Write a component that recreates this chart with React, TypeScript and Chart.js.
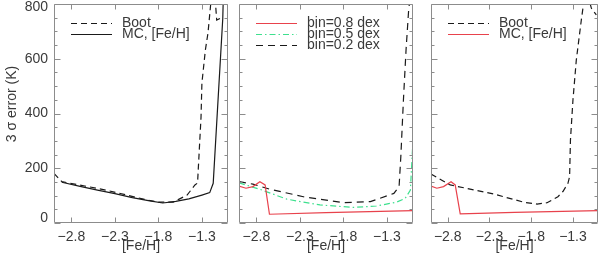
import React, { useEffect, useRef } from "react";
import { Chart, registerables } from "chart.js";

Chart.register(...registerables);

// ---------- data ----------
const xTicks = [-2.8, -2.3, -1.8, -1.3];
const yTicks = [0, 200, 400, 600, 800];
const yMinorStep = 50;

// Panel 1
const boot1X = [-3.0, -2.91, -2.51, -2.32, -1.93, -1.8, -1.63, -1.47, -1.38, -1.35, -1.33, -1.31, -1.3, -1.26, -1.23, -1.19, -1.15, -1.13, -1.06];
const boot1Y = [181, 151, 127, 114, 84, 76, 76, 102, 139, 146, 267, 387, 511, 632, 694, 830, 830, 741, 752];
const mc1X = [-2.91, -2.7, -2.5, -2.3, -2.1, -1.9, -1.75, -1.6, -1.45, -1.3, -1.21, -1.17, -1.06, -1.055];
const mc1Y = [149, 134, 120, 107, 93, 81, 73, 79, 88, 102, 111, 145, 748, 810];

// Panel 2
const bin08X = [-3.0, -2.92, -2.84, -2.76, -2.7, -2.65, -2.0, -1.0];
const bin08Y = [135, 127, 133, 151, 139, 32, 38, 45];
const bin05X = [-3.0, -2.76, -2.45, -2.07, -1.69, -1.42, -1.19, -1.09, -1.03, -1.0];
const bin05Y = [147, 123, 87, 66, 57, 62, 76, 90, 120, 303];
const bin02X = [-3.0, -2.84, -2.64, -2.26, -1.8, -1.49, -1.22, -1.16, -1.14, -1.11, -1.08, -1.05, -1.03];
const bin02Y = [151, 142, 123, 96, 74, 78, 108, 133, 242, 449, 632, 778, 830];

// Panel 3
const boot3X = [-3.0, -2.77, -2.25, -1.89, -1.73, -1.61, -1.48, -1.42, -1.36, -1.34, -1.33, -1.3, -1.26, -1.2, -1.16, -1.12, -1.08, -1.02];
const boot3Y = [179, 139, 106, 76, 69, 74, 96, 115, 145, 169, 303, 449, 595, 741, 830, 830, 785, 760];
const mc3X = [-3.0, -2.93, -2.85, -2.76, -2.71, -2.65, -2.0, -1.0];
const mc3Y = [135, 127, 133, 151, 139, 33, 39, 45];

const FONT = "'Liberation Sans', Arial, Helvetica, sans-serif";
const TEXT = "#3a3a3a";
const AXIS = "#8c8c8c";
const BLACK = "#1a1a1a";
const RED = "#e8424c";
const GREEN = "#3ee08e";

type Series = { label: string; xs: number[]; ys: number[]; color: string; dash: number[]; width?: number };

const fmt = (v: number) => (v < 0 ? "\u2212" + Math.abs(v).toFixed(1) : v.toFixed(1));

type PanelProps = {
  left: number;
  width: number;
  areaLeft: number;
  rightPad: number;
  series: Series[];
  showY: boolean;
};

function Panel({ left, width, areaLeft, rightPad, series, showY }: PanelProps) {
  const ref = useRef<HTMLCanvasElement | null>(null);
  useEffect(() => {
    if (!ref.current) return;
    const decor = {
      id: "decor",
      beforeDraw(chart: any) {
        // keep the end labels of the y axis inside the frame, like the original
        const a = chart.chartArea;
        const items = chart.scales.y.getLabelItems(a) || [];
        items.forEach((it: any) => {
          const t = it.options.translation;
          t[1] = Math.min(Math.max(t[1], a.top + 3), a.bottom - 4.5);
        });
      },
      afterDatasetsDraw(chart: any) {
        const { ctx, chartArea: a, scales } = chart;
        ctx.save();
        ctx.strokeStyle = AXIS;
        ctx.lineWidth = 1;
        const L = Math.round(a.left) + 0.5;
        const R = Math.round(a.right) - 0.5;
        const T = Math.round(a.top) + 0.5;
        const B = Math.round(a.bottom) - 0.5;
        ctx.beginPath();
        ctx.rect(L, T, R - L, B - T);
        for (let v = yTicks[0]; v <= yTicks[yTicks.length - 1]; v += yMinorStep) {
          const y = Math.round(scales.y.getPixelForValue(v)) + 0.5;
          const len = yTicks.includes(v) ? 6 : 3;
          ctx.moveTo(L, y);
          ctx.lineTo(L + len, y);
          ctx.moveTo(R, y);
          ctx.lineTo(R - len, y);
        }
        for (const v of xTicks) {
          const x = Math.round(scales.x.getPixelForValue(v)) + 0.5;
          ctx.moveTo(x, B);
          ctx.lineTo(x, B - 5);
          ctx.moveTo(x, T);
          ctx.lineTo(x, T + 5);
        }
        ctx.stroke();

        // legend
        ctx.font = `14px ${FONT}`;
        ctx.textBaseline = "middle";
        ctx.textAlign = "left";
        series.forEach((s, i) => {
          const y = Math.round(a.top + 19 + i * 11) + 0.5;
          ctx.beginPath();
          ctx.strokeStyle = s.color;
          ctx.lineWidth = s.width ?? 1.2;
          ctx.setLineDash(s.dash);
          ctx.moveTo(a.left + 17, y);
          ctx.lineTo(a.left + 58, y);
          ctx.stroke();
          ctx.setLineDash([]);
          ctx.fillStyle = TEXT;
          ctx.fillText(s.label, a.left + 68, y);
        });

        // titles
        ctx.fillStyle = TEXT;
        ctx.textAlign = "center";
        ctx.fillText("[Fe/H]", (a.left + a.right) / 2, 246);
        if (showY) {
          ctx.save();
          ctx.translate(12, 104);
          ctx.rotate(-Math.PI / 2);
          ctx.fillText("3 \u03c3 error (K)", 0, 0);
          ctx.restore();
        }
        ctx.restore();
      },
    };

    const chart = new Chart(ref.current, {
      type: "line",
      data: {
        datasets: series.map((s) => ({
          label: s.label,
          data: s.xs.map((x, i) => ({ x, y: s.ys[i] })),
          borderColor: s.color,
          borderWidth: s.width ?? 1.2,
          borderDash: s.dash,
          pointRadius: 0,
          fill: false,
          tension: 0,
        })),
      },
      options: {
        animation: false,
        responsive: false,
        devicePixelRatio: 1,
        layout: { padding: { top: 4, right: rightPad, left: 0, bottom: 0 }, autoPadding: false },
        plugins: { legend: { display: false }, tooltip: { enabled: false } },
        scales: {
          x: {
            type: "linear",
            min: -3,
            max: -1,
            grid: { display: false, drawTicks: false },
            border: { display: false },
            afterBuildTicks: (s: any) => {
              s.ticks = xTicks.map((v) => ({ value: v }));
            },
            afterFit: (s: any) => {
              s.height = 39;
              s.paddingLeft = 0;
              s.paddingRight = 0;
              s.paddingTop = 0;
              s.paddingBottom = 0;
            },
            ticks: {
              padding: 6,
              color: TEXT,
              font: { family: FONT, size: 14 },
              maxRotation: 0,
              autoSkip: false,
              callback: (v: any) => fmt(Number(v)),
            },
          },
          y: {
            type: "linear",
            min: 0,
            max: 800,
            grid: { display: false, drawTicks: false },
            border: { display: false },
            afterBuildTicks: (s: any) => {
              s.ticks = yTicks.map((v) => ({ value: v }));
            },
            afterFit: (s: any) => {
              s.width = areaLeft;
              s.paddingLeft = 0;
              s.paddingRight = 0;
              s.paddingTop = 0;
              s.paddingBottom = 0;
            },
            ticks: {
              display: showY,
              padding: 6,
              color: TEXT,
              font: { family: FONT, size: 14 },
              callback: (v: any) => String(v),
            },
          },
        },
      } as any,
      plugins: [decor],
    });
    return () => chart.destroy();
  }, []);
  return (
    <canvas
      ref={ref}
      width={width}
      height={262}
      style={{ position: "absolute", left, top: 0, width, height: 262 }}
    />
  );
}

export default function App() {
  const p1: Series[] = [
    { label: "Boot", xs: boot1X, ys: boot1Y, color: BLACK, dash: [6, 4] },
    { label: "MC, [Fe/H]", xs: mc1X, ys: mc1Y, color: BLACK, dash: [] },
  ];
  const p2: Series[] = [
    { label: "bin=0.8 dex", xs: bin08X, ys: bin08Y, color: RED, dash: [] },
    { label: "bin=0.5 dex", xs: bin05X, ys: bin05Y, color: GREEN, dash: [6, 3, 1.5, 3] },
    { label: "bin=0.2 dex", xs: bin02X, ys: bin02Y, color: BLACK, dash: [7, 5] },
  ];
  const p3: Series[] = [
    { label: "Boot", xs: boot3X, ys: boot3Y, color: BLACK, dash: [6, 4] },
    { label: "MC, [Fe/H]", xs: mc3X, ys: mc3Y, color: RED, dash: [] },
  ];
  return (
    <div style={{ position: "fixed", left: 0, top: 0, width: 600, height: 262, background: "#fff" }}>
      <Panel left={0} width={232} areaLeft={54} rightPad={4} series={p1} showY={true} />
      <Panel left={232} width={185} areaLeft={7} rightPad={4} series={p2} showY={false} />
      <Panel left={417} width={183} areaLeft={14} rightPad={2} series={p3} showY={false} />
    </div>
  );
}
